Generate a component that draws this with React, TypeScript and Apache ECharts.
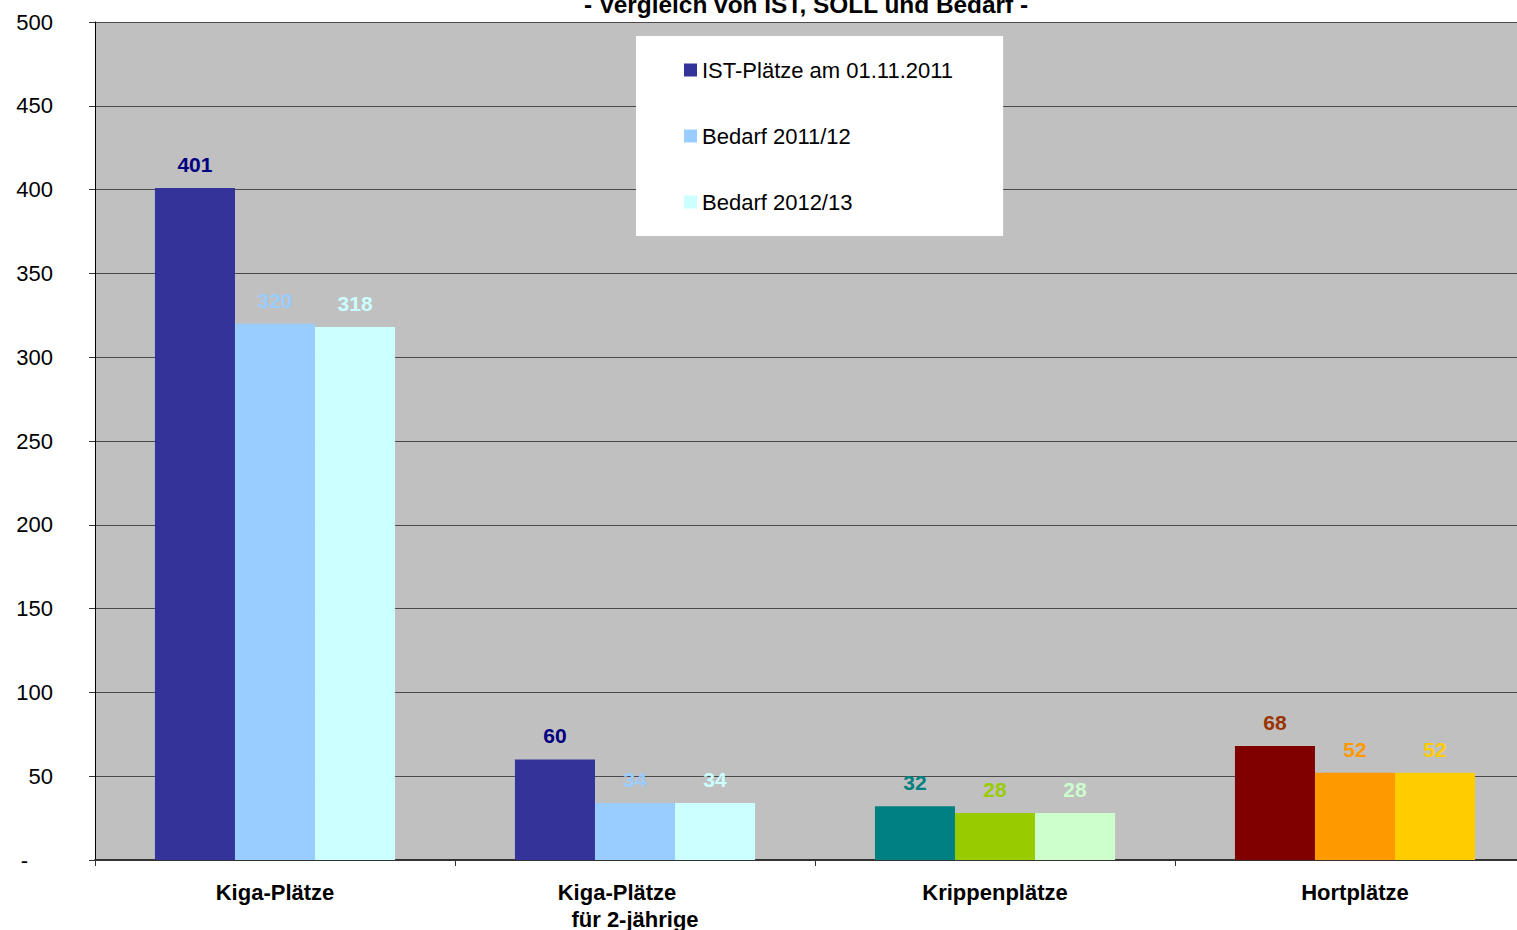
import React, { useEffect, useRef } from 'react';
import * as echarts from 'echarts';

const categories = ['Kiga-Plätze', 'Kiga-Plätze\nfür 2-jährige', 'Krippenplätze', 'Hortplätze'];
const seriesNames = ['IST-Plätze am 01.11.2011', 'Bedarf 2011/12', 'Bedarf 2012/13'];
const istPlaetze = [401, 60, 32, 68];
const bedarf2011 = [320, 34, 28, 52];
const bedarf2012 = [318, 34, 28, 52];
const seriesValues = [istPlaetze, bedarf2011, bedarf2012];

// per series, per category fill colours
const barColors = [
  ['#333399', '#333399', '#008080', '#800000'],
  ['#99CCFF', '#99CCFF', '#99CC00', '#FF9900'],
  ['#CCFFFF', '#CCFFFF', '#CCFFCC', '#FFCC00'],
];
const labelColors = [
  ['#000080', '#000080', '#008080', '#993300'],
  ['#99CCFF', '#99CCFF', '#99CC00', '#FF9900'],
  ['#CCFFFF', '#CCFFFF', '#CCFFCC', '#FFCC00'],
];
const titleText = '- Vergleich von IST, SOLL und Bedarf -';
const yMax = 500;
const yStep = 50;

const FONT = '"Liberation Sans", Arial, sans-serif';

export default function App() {
  const ref = useRef<HTMLDivElement>(null);

  useEffect(() => {
    document.body.style.margin = '0';
    if (!ref.current) return;
    const chart = echarts.init(ref.current, undefined, { renderer: 'svg' });

    const series = seriesValues.map((vals, si) => ({
      name: seriesNames[si],
      type: 'bar',
      barGap: '0%',
      barCategoryGap: '33.3%',
      itemStyle: { color: barColors[si][0] },
      label: {
        show: true,
        position: 'top',
        distance: 13,
        fontFamily: FONT,
        fontWeight: 'bold',
        fontSize: 21,
      },
      data: vals.map((v, ci) => ({
        value: v,
        itemStyle: { color: barColors[si][ci] },
        label: { color: labelColors[si][ci] },
      })),
    }));

    chart.setOption({
      animation: false,
      backgroundColor: '#ffffff',
      textStyle: { fontFamily: FONT },
      graphic: [
        {
          type: 'text',
          x: 806,
          y: 4,
          style: {
            text: titleText,
            fontFamily: FONT,
            fontWeight: 'bold',
            fontSize: 24.4,
            fill: '#000',
            align: 'center',
            verticalAlign: 'middle',
          },
        },
      ],
      legend: {
        orient: 'vertical',
        left: 636,
        top: 36,
        backgroundColor: '#ffffff',
        padding: [23, 50, 23, 48],
        itemGap: 44,
        itemWidth: 13,
        itemHeight: 13,
        icon: 'rect',
        textStyle: { fontFamily: FONT, fontSize: 22, color: '#000', lineHeight: 22 },
        data: seriesNames,
      },
      grid: {
        left: 95,
        top: 22,
        width: 1440,
        height: 838,
        outerBoundsMode: 'none',
        containLabel: false,
        backgroundColor: '#C0C0C0',
        show: true,
        borderWidth: 0,
      },
      xAxis: {
        type: 'category',
        data: categories,
        axisLine: { lineStyle: { color: '#333', width: 2 } },
        axisTick: { show: true, length: 6, interval: 0, alignWithLabel: false, lineStyle: { color: '#333' } },
        axisLabel: {
          interval: 0,
          margin: 19,
          fontFamily: FONT,
          fontWeight: 'bold',
          fontSize: 22,
          lineHeight: 27,
          color: '#000',
          formatter: (v: string) => {
            const parts = v.split('\n');
            if (parts.length > 1) return `{shift|${parts[0]}}\n${parts[1]}`;
            return v;
          },
          rich: {
            shift: {
              fontFamily: FONT,
              fontWeight: 'bold',
              fontSize: 22,
              lineHeight: 27,
              color: '#000',
              padding: [0, 36, 0, 0],
            },
          },
        },
      },
      yAxis: {
        type: 'value',
        min: 0,
        max: yMax,
        interval: yStep,
        axisLine: { show: true, lineStyle: { color: '#000' } },
        axisTick: { show: true, length: 6, lineStyle: { color: '#333' } },
        axisLabel: {
          margin: 42,
          fontFamily: FONT,
          fontSize: 22,
          color: '#000',
          formatter: (v: number) => (v === 0 ? '{dash|-}' : String(v)),
          rich: {
            dash: { fontFamily: FONT, fontSize: 22, color: '#000', padding: [0, 25, 0, 0] },
          },
        },
        splitLine: { show: true, lineStyle: { color: '#4a4a4a', width: 1 } },
      },
      series,
    });

    return () => chart.dispose();
  }, []);

  return (
    <div style={{ width: 1517, height: 930, overflow: 'hidden' }}>
      <div ref={ref} style={{ width: 1540, height: 930 }} />
    </div>
  );
}
